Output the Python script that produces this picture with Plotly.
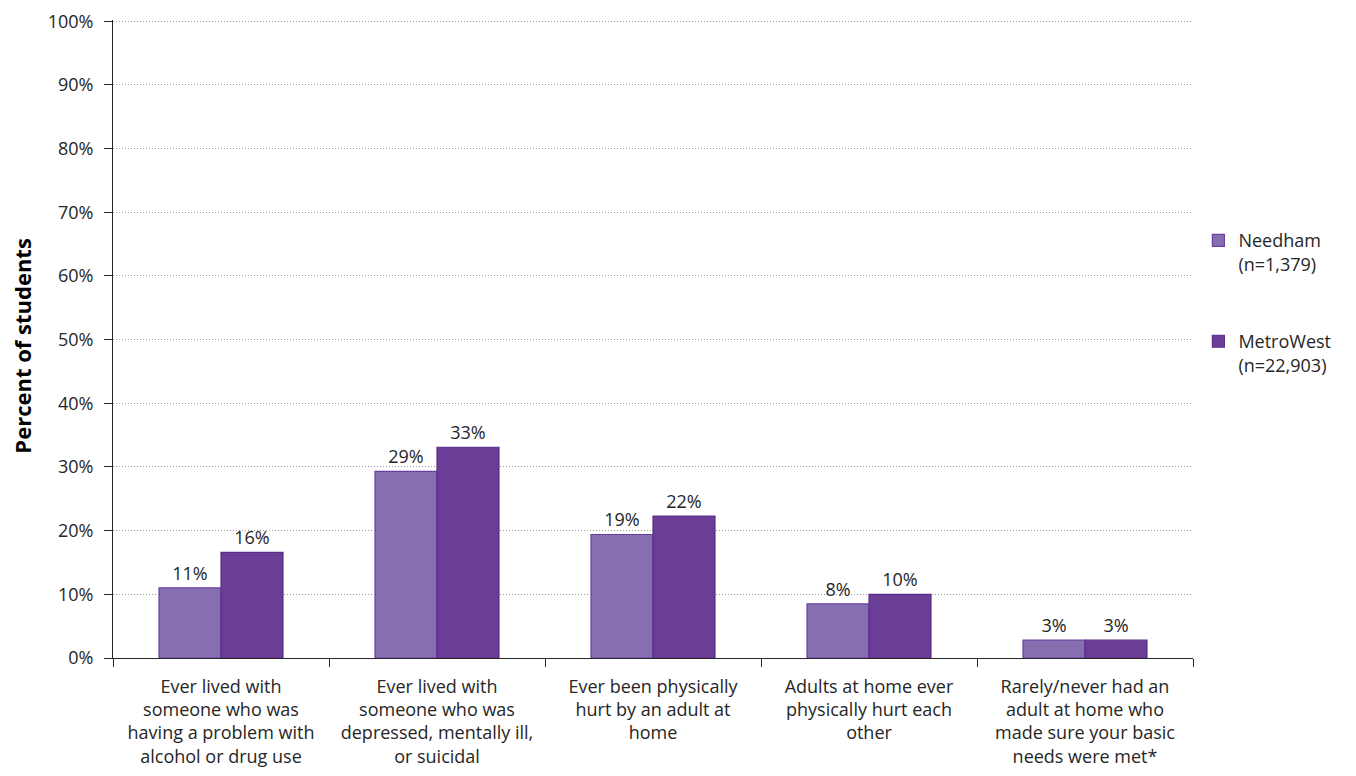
import plotly.graph_objects as go

categories = [
    "Ever lived with<br>someone who was<br>having a problem with<br>alcohol or drug use",
    "Ever lived with<br>someone who was<br>depressed, mentally ill,<br>or suicidal",
    "Ever been physically<br>hurt by an adult at<br>home",
    "Adults at home ever<br>physically hurt each<br>other",
    "Rarely/never had an<br>adult at home who<br>made sure your basic<br>needs were met*",
]
needham = [11.0, 29.3, 19.4, 8.5, 2.8]
metrowest = [16.6, 33.1, 22.3, 10.0, 2.8]
needham_labels = ["11%", "29%", "19%", "8%", "3%"]
metrowest_labels = ["16%", "33%", "22%", "10%", "3%"]
yticks = [0, 10, 20, 30, 40, 50, 60, 70, 80, 90, 100]

font_family = "'Open Sans', 'Noto Sans', sans-serif"
text_color = "#262626"
fs = 18

fig = go.Figure()
fig.add_trace(go.Bar(
    x=categories, y=needham, name="Needham<br>(n=1,379)", legendgroup="a",
    text=needham_labels, textposition="outside", cliponaxis=False,
    marker=dict(color="#866eb0", line=dict(color="#6b3fa0", width=1.2)),
    textfont=dict(size=fs, color=text_color, family=font_family),
))
fig.add_trace(go.Bar(
    x=categories, y=metrowest, name="MetroWest<br>(n=22,903)", legendgroup="b",
    text=metrowest_labels, textposition="outside", cliponaxis=False,
    marker=dict(color="#6a3d96", line=dict(color="#5a2d8a", width=1.2)),
    textfont=dict(size=fs, color=text_color, family=font_family),
))

fig.update_layout(
    width=1356, height=776,
    margin=dict(l=105, r=171, t=12, b=126, autoexpand=False),
    barmode="group", bargap=0.426, bargroupgap=0,
    plot_bgcolor="white", paper_bgcolor="white",
    font=dict(family=font_family, size=fs, color=text_color),
    legend=dict(x=1.005, y=0.683, xanchor="left", yanchor="top",
                tracegroupgap=51, font=dict(size=fs), valign="top",
                itemwidth=30),
    uniformtext=dict(minsize=fs, mode="show"),
    annotations=[dict(
        text="<b>Percent of students</b>", textangle=-90,
        xref="paper", yref="paper", x=-0.084, y=0.49,
        xanchor="center", yanchor="middle", showarrow=False,
        font=dict(size=22, color="black", family=font_family),
    )],
)
fig.update_yaxes(
    range=[0, 100.2], tickvals=yticks, ticktext=[f"{v}%" for v in yticks],
    showgrid=True, gridcolor="#9a9a9a", griddash="1px,2px", gridwidth=1,
    showline=True, linecolor="#262626", linewidth=1,
    ticks="outside", ticklen=8, tickcolor="#262626",
    zeroline=False, automargin=False, tickfont=dict(size=fs),
    ticklabeloverflow="allow", ticklabelstandoff=7,
)
fig.update_xaxes(
    showline=True, linecolor="#262626", linewidth=1,
    ticks="outside", tickson="boundaries", ticklen=8, tickcolor="#262626",
    tickfont=dict(size=fs), automargin=False,
    ticklabeloverflow="allow", ticklabelstandoff=12,
)

fig.write_html("out.html")
